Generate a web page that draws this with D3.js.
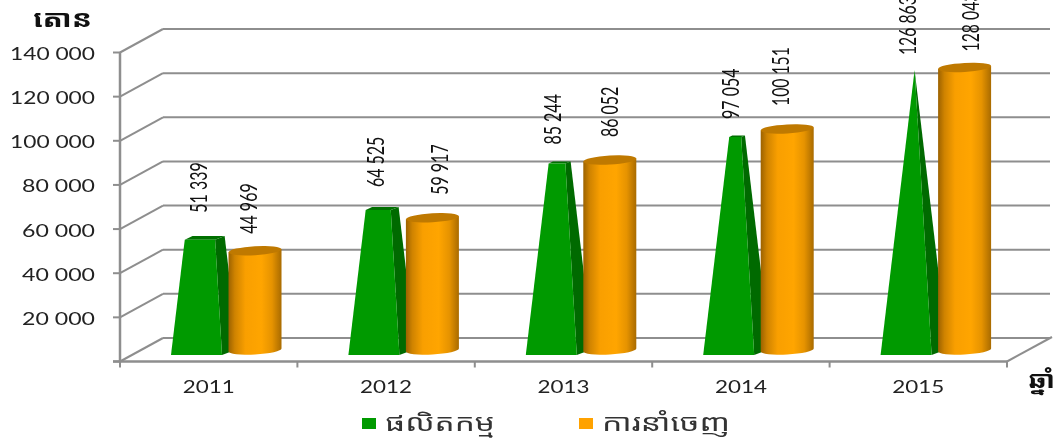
<!DOCTYPE html>
<html><head><meta charset="utf-8">
<script src="https://cdn.jsdelivr.net/npm/d3@7"></script>
<style>html,body{margin:0;padding:0;background:#fff;overflow:hidden}svg{display:block;filter:blur(0.45px)}text{font-family:Lato,"Noto Sans","Noto Sans Khmer","DejaVu Sans",sans-serif;fill:#222}</style>
</head><body><svg id="c" width="1055" height="439"></svg>
<script>
const years = ["2011","2012","2013","2014","2015"];
const production = [51339,64525,85244,97054,126863];
const exportsData = [44969,59917,86052,100151,128043];
const yTicks = [0,20000,40000,60000,80000,100000,120000,140000];
const seriesNames = ["ផលិតកម្ម","ការនាំចេញ"];
const yTitle = "តោន";
const xTitle = "ឆ្នាំ";
// label gaps above each mark, and sideways nudges for the export labels
const prodLabelGap = [27,23,19,18,15];
const expLabelGap = [17,23,23,23,16];
const expLabelNudge = [-7,7,0,-7,6];

const svg = d3.select("#c");
const fmt = v => String(v).replace(/\B(?=(\d{3})+$)/g," ");
const x = d3.scaleBand().domain(years).range([120,1007]);
const y = d3.scaleLinear().domain([0,140000]).range([361.5,52.5]);
const yG = d3.scaleLinear().domain([0,140000]).range([355,40.5]);
const yO = d3.scaleLinear().domain([0,140000]).range([350,41]);
const dx=43, dy=-23.5;

const defs = svg.append("defs");
const g1 = defs.append("linearGradient").attr("id","cyl");
[[0,"#9c6200"],[.12,"#cf8300"],[.32,"#f99f00"],[.62,"#ffa500"],[.82,"#e69300"],[1,"#a96b00"]]
  .forEach(([o,c])=>g1.append("stop").attr("offset",o).attr("stop-color",c));

// walls
const grid = svg.append("g").attr("stroke","#8e8e8e").attr("stroke-width",2).attr("fill","none");
grid.selectAll(".b").data(yTicks).join("line").attr("x1",120+dx).attr("x2",1007+dx).attr("y1",d=>y(d)+dy).attr("y2",d=>y(d)+dy);
grid.selectAll(".d").data(yTicks).join("line").attr("x1",120).attr("x2",120+dx).attr("y1",d=>y(d)).attr("y2",d=>y(d)+dy);
grid.append("line").attr("x1",1007).attr("x2",1007+dx+2).attr("y1",y(0)).attr("y2",y(0)+dy-1);
grid.append("line").attr("x1",120).attr("x2",120).attr("y1",y(140000)).attr("y2",y(0)+1).attr("stroke-width",2.5);
grid.append("line").attr("x1",113).attr("x2",1007).attr("y1",y(0)).attr("y2",y(0)).attr("stroke-width",2.5);
grid.selectAll(".t").data(yTicks).join("line").attr("x1",113).attr("x2",120).attr("y1",d=>y(d)).attr("y2",d=>y(d));
const xEdges = years.map(d=>x(d)).concat([x.range()[1]]);
grid.selectAll(".xt").data(xEdges).join("line").attr("x1",d=>d).attr("x2",d=>d).attr("y1",y(0)).attr("y2",y(0)+6);

// bars
const maxP = d3.max(production);
const poly = a => a.map(p=>p.join(",")).join(" ");
years.forEach((yr,i)=>{
  const s = x(yr), x0 = s+51, v = production[i];
  const apex = [x0+34, yG(maxP)], t = v/maxP;
  const lerp = p => [p[0]+(apex[0]-p[0])*t, p[1]+(apex[1]-p[1])*t];
  const FL=[x0,355],FR=[x0+51,355],BR=[x0+67,349],BL=[x0+13,349];
  const fl=lerp(FL),fr=lerp(FR),br=lerp(BR),bl=lerp(BL);
  svg.append("polygon").attr("points",poly([FR,BR,br,fr])).attr("fill","#006a00");
  svg.append("polygon").attr("points",poly([fl,fr,br,bl])).attr("fill","#007000");
  svg.append("polygon").attr("points",poly([FL,FR,fr,fl])).attr("fill","#009a00");

  const c = s+135, rx=26.5, ry=4.5, tilt=1.5, yb=yO(0), yt=yO(exportsData[i]);
  svg.append("path").attr("fill","url(#cyl)")
    .attr("d",`M${c-rx},${yt+tilt} L${c-rx},${yb+tilt} A${rx},${ry} -3.3 0 0 ${c+rx},${yb-tilt} L${c+rx},${yt-tilt} Z`);
  svg.append("path").attr("fill","#bf7900")
    .attr("d",`M${c-rx},${yt+tilt} A${rx},${ry} -3.3 1 1 ${c+rx},${yt-tilt} A${rx},${ry} -3.3 1 1 ${c-rx},${yt+tilt} Z`);

  const lab=(val,lx,ly)=>{
    const str=fmt(val);
    svg.append("text").attr("transform",`translate(${lx},${ly}) rotate(-90)`)
      .attr("font-size",24).attr("textLength",str.length*8.4).attr("lengthAdjust","spacingAndGlyphs")
      .attr("dy","0.36em").style("fill","#111").text(str);
  };
  lab(v, x0+27, fl[1]-prodLabelGap[i]);
  lab(exportsData[i], c+expLabelNudge[i], yt-4.5-expLabelGap[i]+4.5);
});

// axis labels
const stretched=(sel,w)=>sel.attr("lengthAdjust","spacingAndGlyphs").attr("textLength",w);
yTicks.filter(d=>d>0).forEach(d=>{
  const str=fmt(d);
  stretched(svg.append("text").attr("x",95).attr("y",y(d)+7.5).attr("text-anchor","end").attr("font-size",17),str.length===7?85:73).text(str);
});
years.forEach(d=>{
  stretched(svg.append("text").attr("x",x(d)+x.bandwidth()/2).attr("y",393).attr("text-anchor","middle").attr("font-size",17),52).text(d);
});

// titles and legend
stretched(svg.append("text").attr("x",33).attr("y",27).attr("font-size",24).attr("font-weight","bold").style("fill","#111"),59).text(yTitle);
stretched(svg.append("text").attr("x",1028).attr("y",388).attr("font-size",24).attr("font-weight","bold").style("fill","#111"),27).text(xTitle);
const lg=[[362,385,"#009a00",110],[579,602,"#ffa200",128]];
seriesNames.forEach((n,i)=>{
  svg.append("rect").attr("x",lg[i][0]).attr("y",418).attr("width",14).attr("height",11).attr("fill",lg[i][2]);
  stretched(svg.append("text").attr("x",lg[i][1]).attr("y",431).attr("font-size",24).style("fill","#333"),lg[i][3]).text(n);
});
</script></body></html>
